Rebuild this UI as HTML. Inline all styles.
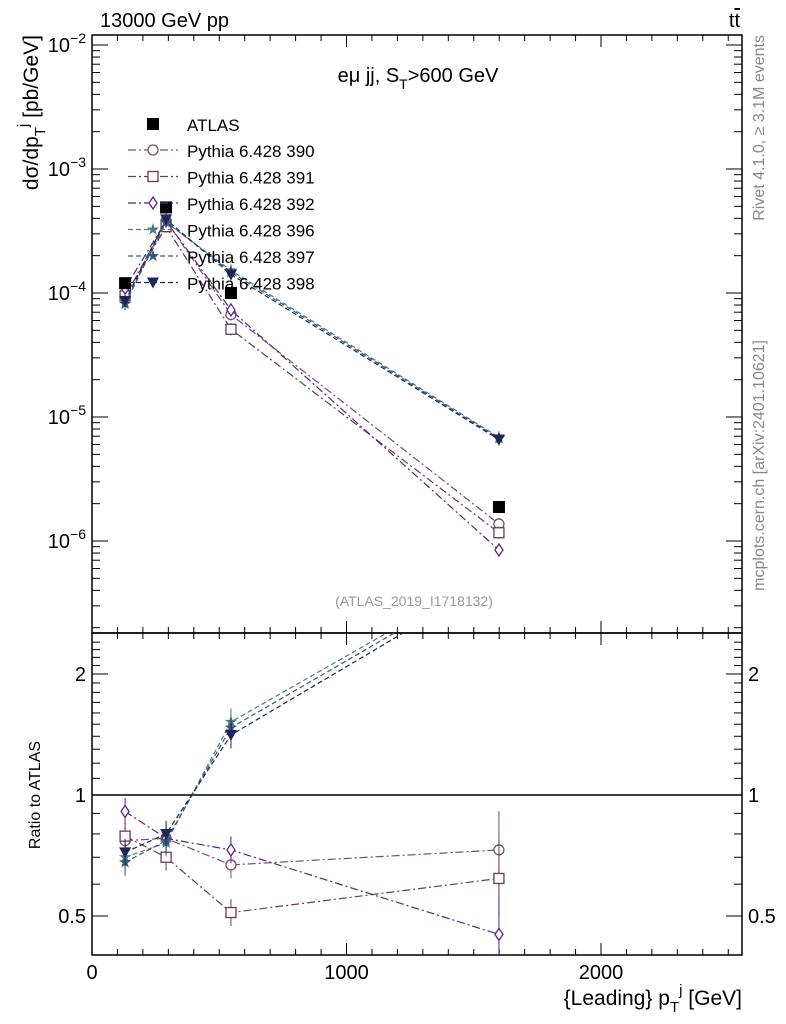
<!DOCTYPE html>
<html><head><meta charset="utf-8"><style>
body{margin:0;background:#fff;}
svg{display:block;font-family:"Liberation Sans",sans-serif;}
</style></head><body>
<svg id="c" width="786" height="1024"></svg>
<script>
const xs=[130,291,546,1599];
const atlas=[1.2e-4,4.9e-4,1.0e-4,1.88e-6];
const r390=[0.77,0.78,0.67,0.73];
const r391=[0.79,0.70,0.51,0.62];
const r392=[0.91,0.78,0.73,0.45];
const r396=[0.70,0.76,1.52,3.65];
const r397=[0.68,0.77,1.47,3.58];
const r398=[0.72,0.80,1.41,3.5];
const xTicks=[0,1000,2000];
const yTickExp=[-6,-5,-4,-3,-2];
const rTicks=[0.5,1,2];
const NS="http://www.w3.org/2000/svg";
const svg=document.getElementById('c');
const L=92,R=742,T=35,M=633,B=955;
const X=v=>L+v*0.2545;
const Y=v=>45+(-2-Math.log10(v))*124;
const RY=v=>795-Math.log2(v)*121;
function mk(t,a,p){const e=document.createElementNS(NS,t);for(const k in a)e.setAttribute(k,a[k]);(p||svg).appendChild(e);return e;}
function txt(s,x,y,sz,anchor,fill,p){const e=mk('text',{x:x,y:y,'font-size':sz,'text-anchor':anchor||'start',fill:fill||'#000'},p);e.textContent=s;return e;}
const defs=mk('defs',{});
const c1=mk('clipPath',{id:'cm'},defs);mk('rect',{x:L,y:T,width:R-L,height:M-T},c1);
const c2=mk('clipPath',{id:'cr'},defs);mk('rect',{x:L,y:M,width:R-L,height:B-M},c2);
let f=mk('rect',{x:L,y:T,width:R-L,height:M-T,fill:'none',stroke:'#000','stroke-width':1.5});

f=mk('rect',{x:L,y:M,width:R-L,height:B-M,fill:'none',stroke:'#000','stroke-width':1.5});

for(let v=0;v<=2500;v+=100){const x=X(v);const h=v%1000===0?12:6;
 mk('line',{x1:x,y1:B,x2:x,y2:B-h,stroke:'#000'});mk('line',{x1:x,y1:M,x2:x,y2:M-h,stroke:'#000'});
 mk('line',{x1:x,y1:T,x2:x,y2:T+h,stroke:'#000'});mk('line',{x1:x,y1:M,x2:x,y2:M+h,stroke:'#000'});}
xTicks.forEach(v=>{const t=txt(String(v),X(v),979,20,'middle');});
for(let e=-7;e<=-2;e++){for(let m=1;m<10;m++){const v=m*Math.pow(10,e);const y=Y(v);if(y<T||y>M)continue;const h=m===1?16:8;
 mk('line',{x1:L,y1:y,x2:L+h,y2:y,stroke:'#000'});mk('line',{x1:R,y1:y,x2:R-h,y2:y,stroke:'#000'});}}
yTickExp.forEach(e=>{const g=mk('text',{x:L-6,y:Y(Math.pow(10,e))+7,'font-size':20,'text-anchor':'end'});
 
 g.innerHTML='10<tspan dy="-9" font-size="14">'+e.toString().replace('-','−')+'</tspan>';});
[0.4,0.5,0.6,0.7,0.8,0.9,1,2].forEach(v=>{const y=RY(v);if(y>B)return;const h=(v===0.5||v===1||v===2)?16:8;mk('line',{x1:L,y1:y,x2:L+h,y2:y,stroke:'#000'});mk('line',{x1:R,y1:y,x2:R-h,y2:y,stroke:'#000'});});
for(let v=1.1;v<2.5;v+=0.1){if(Math.abs(v-2)<0.01)continue;const y=RY(v);mk('line',{x1:L,y1:y,x2:L+8,y2:y,stroke:'#000'});mk('line',{x1:R,y1:y,x2:R-8,y2:y,stroke:'#000'});}
rTicks.forEach(v=>{let t=txt(String(v),L-6,RY(v)+7,20,'end');
 t=txt(String(v),R+6,RY(v)+7,20,'start');});
mk('line',{x1:L,y1:RY(1),x2:R,y2:RY(1),stroke:'#000','stroke-width':1.5});
const series=[
 {n:'390',r:r390,c:'#7a4a72',m:'circle',d:'8,3,2,3'},
 {n:'391',r:r391,c:'#6b3a50',m:'square',d:'8,3,2,3'},
 {n:'392',r:r392,c:'#55248a',m:'diamond',d:'8,3,2,3'},
 {n:'396',r:r396,c:'#4a7a84',m:'star',d:'5,3'},
 {n:'397',r:r397,c:'#345a7a',m:'star',d:'5,3'},
 {n:'398',r:r398,c:'#1f2558',m:'tri',d:'5,3'}];
function marker(type,x,y,c,p){
 if(type==='circle')return mk('circle',{cx:x,cy:y,r:5,fill:'#fff',stroke:c,'stroke-width':1.3},p);
 if(type==='square')return mk('rect',{x:x-5,y:y-5,width:10,height:10,fill:'#fff',stroke:c,'stroke-width':1.3},p);
 if(type==='diamond')return mk('polygon',{points:`${x},${y-6} ${x+4},${y} ${x},${y+6} ${x-4},${y}`,fill:'#fff',stroke:c,'stroke-width':1.3},p);
 if(type==='star'){let s='';for(let i=0;i<10;i++){const a=-Math.PI/2+i*Math.PI/5,rr=i%2?2.5:6.5;s+=(x+rr*Math.cos(a))+','+(y+rr*Math.sin(a))+' ';}return mk('polygon',{points:s,fill:c},p);}
 if(type==='tri')return mk('polygon',{points:`${x-6},${y-5} ${x+6},${y-5} ${x},${y+6}`,fill:c},p);
 if(type==='sq')return mk('rect',{x:x-6,y:y-6,width:12,height:12,fill:'#000'},p);
}
series.forEach(s=>{
 const gm=mk('g',{'clip-path':'url(#cm)'});
 const vals=s.r.map((r,i)=>r*atlas[i]);
 mk('polyline',{points:xs.map((x,i)=>X(x)+','+Y(vals[i])).join(' '),fill:'none',stroke:s.c,'stroke-width':1.2,'stroke-dasharray':s.d},gm);
 xs.forEach((x,i)=>{mk('line',{x1:X(x),x2:X(x),y1:Y(vals[i]*1.12),y2:Y(vals[i]/1.12),stroke:s.c},gm);marker(s.m,X(x),Y(vals[i]),s.c,gm);});
 const gr=mk('g',{'clip-path':'url(#cr)'});
 mk('polyline',{points:xs.map((x,i)=>X(x)+','+RY(s.r[i])).join(' '),fill:'none',stroke:s.c,'stroke-width':1.2,'stroke-dasharray':s.d},gr);
 xs.forEach((x,i)=>{const e=i===3?1.25:1.08;mk('line',{x1:X(x),x2:X(x),y1:RY(s.r[i]*e),y2:RY(s.r[i]/e),stroke:s.c},gr);marker(s.m,X(x),RY(s.r[i]),s.c,gr);});
});
const ga=mk('g',{});
xs.forEach((x,i)=>marker('sq',X(x),Y(atlas[i]),'#000',ga));
const lg=mk('g',{});
marker('sq',153,124,'#000',lg);txt('ATLAS',187,131,17,'start','#000',lg);
series.forEach((s,i)=>{const y=150+i*26.5;
 mk('line',{x1:128,x2:178,y1:y,y2:y,stroke:s.c,'stroke-width':1.2,'stroke-dasharray':s.d},lg);
 marker(s.m,153,y,s.c,lg);txt('Pythia 6.428 '+s.n,187,y+7,17,'start','#000',lg);});
let t=txt('13000 GeV pp',100,27,20);
t=mk('text',{x:740,y:27,'font-size':20,'text-anchor':'end'});t.innerHTML='t<tspan text-decoration="overline">t</tspan>';

t=mk('text',{x:418,y:82,'font-size':20,'text-anchor':'middle'});t.innerHTML='eμ jj, S<tspan dy="7" font-size="14">T</tspan><tspan dy="-7">&gt;600 GeV</tspan>';

t=txt('(ATLAS_2019_I1718132)',414,606,14,'middle','#999');
t=mk('text',{x:0,y:0,'font-size':21,'text-anchor':'end',transform:'translate(38,35) rotate(-90)'});
t.innerHTML='dσ/dp<tspan dy="7" font-size="15">T</tspan><tspan dy="-17" font-size="15">j</tspan><tspan dy="10"> [pb/GeV]</tspan>';

t=txt('Ratio to ATLAS',0,0,16,'middle');t.setAttribute('transform','translate(40,795) rotate(-90)');
t=mk('text',{x:742,y:1005,'font-size':21,'text-anchor':'end'});
t.innerHTML='{Leading} p<tspan dy="7" font-size="15">T</tspan><tspan dy="-17" font-size="15">j</tspan><tspan dy="10"> [GeV]</tspan>';

t=mk('text',{x:0,y:0,'font-size':16,'text-anchor':'end',fill:'#888',transform:'translate(764,35) rotate(-90)'});t.textContent='Rivet 4.1.0, ≥ 3.1M events';

t=mk('text',{x:0,y:0,'font-size':16,'text-anchor':'end',fill:'#888',transform:'translate(764,340) rotate(-90)'});t.textContent='mcplots.cern.ch [arXiv:2401.10621]';

</script>
</body></html>
